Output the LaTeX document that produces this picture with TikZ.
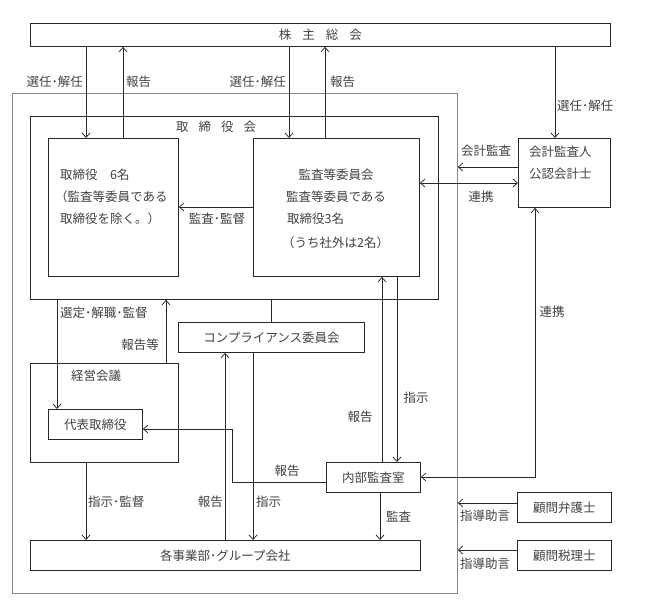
\documentclass[tikz,border=0pt]{standalone}
\usepackage{fontspec}
\setmainfont{Noto Sans CJK JP}
\usetikzlibrary{arrows.meta}
\definecolor{txtc}{RGB}{65,65,65}
\definecolor{linec}{RGB}{40,40,40}
\definecolor{outerc}{RGB}{135,135,135}
\begin{document}
\begin{tikzpicture}[x=1pt,y=-1pt,
  box/.style={draw=linec, line width=0.9pt, inner sep=0pt, anchor=north west, text=txtc, font=\fontsize{12.5}{14}\selectfont},
  lbl/.style={text=txtc, font=\fontsize{12.5}{14}\selectfont, inner sep=0pt},
  conn/.style={draw=linec, line width=0.75pt},
  arr/.style={conn, -{Straight Barb[length=4.5pt,width=8pt]}},
  darr/.style={conn, {Straight Barb[length=4.5pt,width=8pt]}-{Straight Barb[length=4.5pt,width=8pt]}},
]
\useasboundingbox (0,0) rectangle (648,605);

% boxes
\node[box, draw=outerc, line width=0.8pt, minimum width=445pt, minimum height=500pt] (outer) at (12,93) {};
\node[box, minimum width=580pt, minimum height=23pt] (kabu) at (30,23) {株\hspace{11pt}主\hspace{11pt}総\hspace{11pt}会};
\node[box, minimum width=408pt, minimum height=183pt] (torikai) at (30,116) {};
\node[box, minimum width=130pt, minimum height=138pt] (dir6) at (48,138) {};
\node[box, minimum width=166pt, minimum height=138pt] (kansa) at (253,138) {};
\node[box, minimum width=92pt, minimum height=69pt] (kaikei) at (518,138) {};
\node[box, minimum width=186pt, minimum height=30pt] (compl) at (178,322) {コンプライアンス委員会};
\node[box, minimum width=148pt, minimum height=99pt] (keiei) at (30,363) {};
\node[box, minimum width=94pt, minimum height=30pt] (daihyo) at (48,409) {代表取締役};
\node[box, minimum width=94pt, minimum height=30pt] (naibu) at (326,462) {内部監査室};
\node[box, minimum width=390pt, minimum height=30pt] (kakuji) at (30,540) {各事業部･グループ会社};
\node[box, minimum width=94pt, minimum height=30pt] (bengo) at (517,492) {顧問弁護士};
\node[box, minimum width=94pt, minimum height=30pt] (zeiri) at (517,540) {顧問税理士};

% texts inside boxes
\node[lbl] (ttorikai) at (216,127) {取\hspace{10pt}締\hspace{10pt}役\hspace{10pt}会};
\node[lbl, anchor=west] (td1) at (60,175) {取締役　6名};
\node[lbl, anchor=west] (td2) at (55,197) {（監査等委員である};
\node[lbl, anchor=west] (td3) at (60,219) {取締役を除く。）};
\node[lbl] (tk1) at (336,175) {監査等委員会};
\node[lbl] (tk2) at (336,197) {監査等委員である};
\node[lbl, anchor=west] (tk3) at (287,219) {取締役3名};
\node[lbl, anchor=west] (tk4) at (282,243) {（うち社外は2名）};
\node[lbl, anchor=west] (ta1) at (529,152) {会計監査人};
\node[lbl, anchor=west] (ta2) at (529,174) {公認会計士};
\node[lbl] (tkeiei) at (96,376) {経営会議};

% helper coordinates
\foreach \v in {57,86,123,166,225,232,253,271,289,325,380,382,397,535,555}
  \coordinate (x\v) at (\v,0);
\foreach \v in {167,183,207,429,477,482,503,550}
  \coordinate (y\v) at (0,\v);

% connectors
\draw[arr] (kabu.south -| x86) -- (dir6.north -| x86);
\draw[arr] (dir6.north -| x123) -- (kabu.south -| x123);
\draw[arr] (kabu.south -| x289) -- (kansa.north -| x289);
\draw[arr] (kansa.north -| x325) -- (kabu.south -| x325);
\draw[arr] (kabu.south -| x555) -- (kaikei.north -| x555);
\draw[arr] (kansa.west |- y207) -- (dir6.east |- y207);
\draw[arr] (kaikei.west |- y167) -- (outer.east |- y167);
\draw[darr] (kansa.east |- y183) -- (kaikei.west |- y183);
\draw[arr] (torikai.south -| x57) -- (daihyo.north -| x57);
\draw[arr] (keiei.north -| x166) -- (torikai.south -| x166);
\draw[conn] (torikai.south -| x271) -- (compl.north -| x271);
\draw[arr] (naibu.north -| x382) -- (kansa.south -| x382);
\draw[arr] (kansa.south -| x397) -- (naibu.north -| x397);
\draw[darr] (kaikei.south -| x535) -- (x535 |- y477) -- (naibu.east |- y477);
\draw[arr] (naibu.west |- y482) -- (x232 |- y482) -- (x232 |- y429) -- (daihyo.east |- y429);
\draw[arr] (keiei.south -| x86) -- (kakuji.north -| x86);
\draw[arr] (kakuji.north -| x225) -- (compl.south -| x225);
\draw[arr] (compl.south -| x253) -- (kakuji.north -| x253);
\draw[arr] (naibu.south -| x380) -- (kakuji.north -| x380);
\draw[arr] (bengo.west |- y503) -- (outer.east |- y503);
\draw[arr] (zeiri.west |- y550) -- (outer.east |- y550);

% connector labels
\node[lbl, anchor=east] (l1) at (83,82) {選任･解任};
\node[lbl, anchor=west] (l2) at (126,82) {報告};
\node[lbl, anchor=east] (l3) at (286,82) {選任･解任};
\node[lbl, anchor=west] (l4) at (330,82) {報告};
\node[lbl, anchor=west] (l5) at (557,106) {選任･解任};
\node[lbl] (l6) at (217,219) {監査･監督};
\node[lbl] (l7) at (486,151) {会計監査};
\node[lbl] (l8) at (481,197) {連携};
\node[lbl, anchor=west] (l9) at (60,313) {選定･解職･監督};
\node[lbl, anchor=east] (l10) at (159,345) {報告等};
\node[lbl] (l11) at (287,471) {報告};
\node[lbl] (l12) at (360,417) {報告};
\node[lbl] (l13) at (416,398) {指示};
\node[lbl] (l14) at (552,312) {連携};
\node[lbl, anchor=west] (l15) at (88,502) {指示･監督};
\node[lbl, anchor=east] (l16) at (223,502) {報告};
\node[lbl, anchor=west] (l17) at (256,502) {指示};
\node[lbl, anchor=west] (l18) at (386,517) {監査};
\node[lbl, anchor=west] (l19) at (460,516) {指導助言};
\node[lbl, anchor=west] (l20) at (460,564) {指導助言};
\end{tikzpicture}
\end{document}
